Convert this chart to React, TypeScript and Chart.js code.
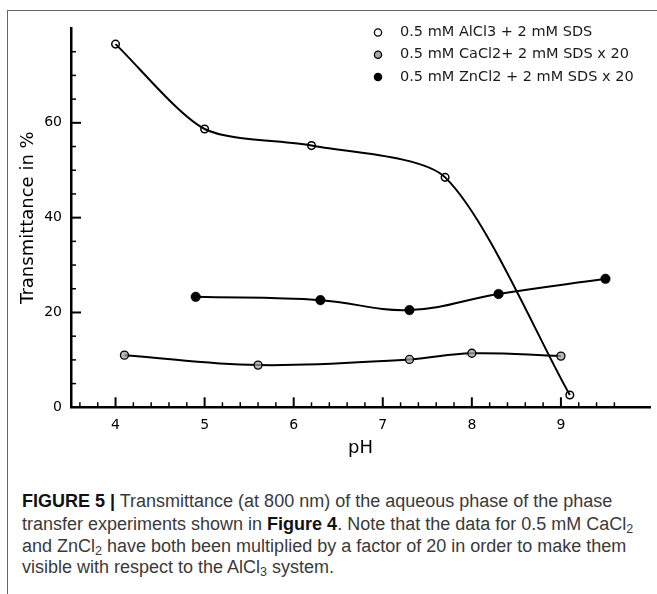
import React, { useEffect, useRef } from 'react';
import { Chart, registerables } from 'chart.js';

Chart.register(...registerables);

// ---- data ----
const seriesLabels = [
  '0.5 mM AlCl3 + 2 mM SDS',
  '0.5 mM CaCl2+ 2 mM SDS x 20',
  '0.5 mM ZnCl2 + 2 mM SDS x 20',
];
const alPH = [4.0, 5.0, 6.2, 7.7, 9.1];
const alT = [76.6, 58.7, 55.2, 48.5, 2.6];
const caPH = [4.1, 5.6, 7.3, 8.0, 9.0];
const caT = [11.0, 8.9, 10.1, 11.4, 10.8];
const znPH = [4.9, 6.3, 7.3, 8.3, 9.5];
const znT = [23.3, 22.6, 20.5, 23.9, 27.1];

const xMajorTicks = [4, 5, 6, 7, 8, 9];
const xTickLabels = ['4', '5', '6', '7', '8', '9'];
const xAllTicks = [
  3.6, 3.8, 4, 4.2, 4.4, 4.6, 4.8, 5, 5.2, 5.4, 5.6, 5.8, 6, 6.2, 6.4, 6.6, 6.8, 7,
  7.2, 7.4, 7.6, 7.8, 8, 8.2, 8.4, 8.6, 8.8, 9, 9.2, 9.4, 9.6,
];
const yMajorTicks = [0, 20, 40, 60];
const yTickLabels = ['0', '20', '40', '60'];
const yAllTicks = [0, 5, 10, 15, 20, 25, 30, 35, 40, 45, 50, 55, 60, 65, 70, 75];

const xTitle = 'pH';
const yTitle = 'Transmittance in %';

const FONT = 'DejaVu Sans';
const CANVAS_W = 657;
const CANVAS_H = 470;

const near = (a: number, b: number) => Math.abs(a - b) < 1e-6;

const inwardTicks = {
  id: 'inwardTicks',
  afterDatasetsDraw(chart: any) {
    const { ctx, chartArea, scales } = chart;
    const xs = scales.x;
    const ys = scales.y;
    ctx.save();
    ctx.strokeStyle = '#000';
    xs.ticks.forEach((t: any) => {
      const major = xMajorTicks.some((m) => near(m, t.value));
      const px = xs.getPixelForValue(t.value);
      ctx.lineWidth = major ? 2 : 1.5;
      ctx.beginPath();
      ctx.moveTo(px, chartArea.bottom);
      ctx.lineTo(px, chartArea.bottom - (major ? 10 : 5));
      ctx.stroke();
    });
    ys.ticks.forEach((t: any) => {
      if (near(t.value, 0)) return;
      const major = yMajorTicks.some((m) => near(m, t.value));
      const py = ys.getPixelForValue(t.value);
      ctx.lineWidth = major ? 2 : 1.5;
      ctx.beginPath();
      ctx.moveTo(chartArea.left, py);
      ctx.lineTo(chartArea.left + (major ? 10 : 5), py);
      ctx.stroke();
    });
    ctx.restore();
  },
};

const innerLegend = {
  id: 'innerLegend',
  afterDraw(chart: any) {
    const { ctx } = chart;
    const markerX = 378;
    const textX = 400;
    const top = 32.5;
    const step = 22.2;
    ctx.save();
    chart.data.datasets.forEach((ds: any, i: number) => {
      const y = top + i * step;
      ctx.beginPath();
      ctx.arc(markerX, y, 3.6, 0, Math.PI * 2);
      ctx.fillStyle = ds.legendFill;
      ctx.fill();
      ctx.lineWidth = 1.3;
      ctx.strokeStyle = '#000';
      ctx.stroke();
      ctx.fillStyle = '#1a1a1a';
      ctx.font = `14.5px "${FONT}"`;
      ctx.textBaseline = 'middle';
      ctx.textAlign = 'left';
      ctx.fillText(ds.label, textX, y);
    });
    ctx.restore();
  },
};

function toPoints(xs: number[], ys: number[]) {
  return xs.map((x, i) => ({ x, y: ys[i] }));
}

export default function App() {
  const ref = useRef<HTMLCanvasElement>(null);

  useEffect(() => {
    if (!ref.current) return;
    const chart = new Chart(ref.current, {
      type: 'scatter',
      data: {
        datasets: [
          {
            label: seriesLabels[0],
            data: toPoints(alPH, alT),
            showLine: true,
            tension: 0.25,
            borderColor: '#000',
            borderWidth: 2,
            pointRadius: 3.8,
            pointBorderWidth: 1.5,
            pointBackgroundColor: 'rgba(255,255,255,0)',
            pointBorderColor: '#000',
            legendFill: '#fff',
          } as any,
          {
            label: seriesLabels[1],
            data: toPoints(caPH, caT),
            showLine: true,
            tension: 0.4,
            borderColor: '#000',
            borderWidth: 2,
            pointRadius: 4,
            pointBorderWidth: 1.3,
            pointBackgroundColor: 'rgba(160,160,160,0.75)',
            pointBorderColor: '#000',
            legendFill: '#a8a8a8',
          } as any,
          {
            label: seriesLabels[2],
            data: toPoints(znPH, znT),
            showLine: true,
            tension: 0.4,
            borderColor: '#000',
            borderWidth: 2,
            pointRadius: 4.8,
            pointBorderWidth: 0.5,
            pointBackgroundColor: '#000',
            pointBorderColor: '#000',
            legendFill: '#000',
          } as any,
        ],
      },
      options: {
        animation: false,
        responsive: false,
        devicePixelRatio: 1,
        events: [],
        layout: { padding: { left: 0, top: 28, right: 7, bottom: 0 } },
        plugins: {
          legend: { display: false },
          tooltip: { enabled: false },
        },
        scales: {
          x: {
            type: 'linear',
            min: 3.5,
            max: 10,
            afterBuildTicks: (s: any) => {
              s.ticks = xAllTicks.map((v) => ({ value: v }));
            },
            afterFit: (s: any) => {
              s.height = CANVAS_H - 407.3;
            },
            grid: { display: false, drawTicks: false },
            border: { display: true, color: '#000', width: 2.5 },
            ticks: {
              autoSkip: false,
              maxRotation: 0,
              padding: 10,
              color: '#000',
              font: { family: FONT, size: 14 },
              callback: (v: any) => {
                const i = xMajorTicks.findIndex((m) => near(m, Number(v)));
                return i >= 0 ? xTickLabels[i] : '';
              },
            },
            title: {
              display: true,
              text: xTitle,
              color: '#000',
              font: { family: FONT, size: 18 },
              padding: { top: 0, bottom: 11 },
            },
          },
          y: {
            type: 'linear',
            min: 0,
            max: 80,
            afterBuildTicks: (s: any) => {
              s.ticks = yAllTicks.map((v) => ({ value: v }));
            },
            afterFit: (s: any) => {
              s.width = 71;
            },
            grid: { display: false, drawTicks: false },
            border: { display: true, color: '#000', width: 2.5 },
            ticks: {
              autoSkip: false,
              padding: 9,
              color: '#000',
              font: { family: FONT, size: 14 },
              callback: (v: any) => {
                const i = yMajorTicks.findIndex((m) => near(m, Number(v)));
                return i >= 0 ? yTickLabels[i] : '';
              },
            },
            title: {
              display: true,
              text: yTitle,
              color: '#000',
              font: { family: FONT, size: 18 },
              padding: { top: 18, bottom: 0 },
            },
          },
        },
      } as any,
      plugins: [inwardTicks, innerLegend],
    });
    return () => chart.destroy();
  }, []);

  const cap: React.CSSProperties = {
    position: 'absolute',
    left: 22,
    whiteSpace: 'nowrap',
    fontFamily: '"Liberation Sans", Arial, sans-serif',
    fontSize: 18,
    lineHeight: '22px',
    color: '#3a3a3a',
  };
  const sub: React.CSSProperties = { fontSize: 12.5, verticalAlign: -3, lineHeight: 0 };
  const bold: React.CSSProperties = { color: '#111' };

  return (
    <div
      style={{
        position: 'absolute',
        left: 0,
        top: 0,
        width: 657,
        height: 594,
        background: '#fff',
        overflow: 'hidden',
      }}
    >
      <div
        style={{
          position: 'absolute',
          left: 7,
          top: 10,
          right: -2,
          bottom: -2,
          borderTop: '1px solid #666',
          borderLeft: '1px solid #666',
        }}
      />
      <canvas
        ref={ref}
        width={CANVAS_W}
        height={CANVAS_H}
        style={{ position: 'absolute', left: 0, top: 0, width: CANVAS_W, height: CANVAS_H }}
      />
      <div style={{ ...cap, top: 490 }}>
        <b style={bold}>FIGURE 5 |</b> Transmittance (at 800 nm) of the aqueous phase of the phase
      </div>
      <div style={{ ...cap, top: 513 }}>
        transfer experiments shown in <b style={bold}>Figure 4</b>. Note that the data for 0.5 mM CaCl
        <span style={sub}>2</span>
      </div>
      <div style={{ ...cap, top: 535 }}>
        and ZnCl<span style={sub}>2</span> have both been multiplied by a factor of 20 in order to make them
      </div>
      <div style={{ ...cap, top: 556 }}>
        visible with respect to the AlCl<span style={sub}>3</span> system.
      </div>
    </div>
  );
}
